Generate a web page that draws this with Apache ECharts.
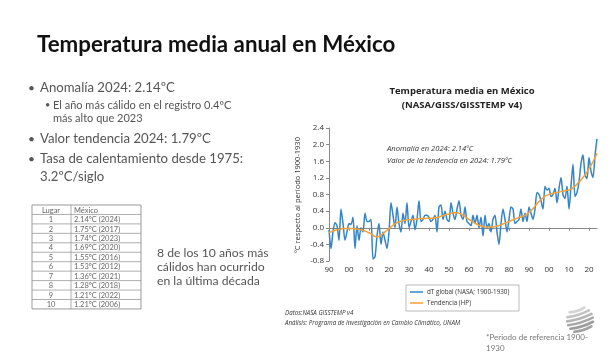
<!DOCTYPE html>
<html><head><meta charset="utf-8">
<script src="https://cdn.jsdelivr.net/npm/echarts@6/dist/echarts.min.js"></script>
<style>html,body{margin:0;padding:0;background:#fff}#c{width:614px;height:360px}</style>
</head><body><div id="c"></div>
<script>
const startYear = 1890;
const anomaly = [
 -0.05,-0.5,-0.1,0.12,0.05,-0.3,0.45,0.1,-0.3,-0.1,
 0.1,0.08,0.25,-0.5,0.05,-0.3,0.0,-0.1,0.35,0.15,
 0.15,0.2,-0.75,-0.7,-0.2,0.1,-0.4,-0.1,-0.3,-0.5,
 -0.1,0.6,0.3,0.0,0.5,0.1,-0.1,0.35,0.1,0.6,
 0.0,0.15,0.3,-0.05,0.2,0.65,0.15,0.2,0.3,0.3,
 0.25,0.15,0.2,0.3,-0.1,0.5,0.55,0.2,0.4,0.2,
 0.15,0.6,0.35,0.2,0.45,0.65,0.3,0.2,0.5,0.15,
 0.1,0.05,0.3,0.1,0.3,0.0,0.25,-0.2,0.3,0.0,
 0.1,-0.1,0.2,0.3,-0.1,-0.4,0.1,0.45,0.2,-0.1,
 0.2,0.5,0.45,0.1,0.15,0.2,0.45,0.15,0.35,0.15,
 0.5,0.35,0.2,0.45,0.85,0.8,0.65,0.45,1.0,0.9,
 0.95,0.75,0.8,0.95,0.6,0.95,1.21,0.8,0.7,1.0,
 0.45,1.0,1.53,0.75,0.85,1.1,1.55,1.75,1.28,1.18,
 1.69,1.36,1.21,1.74,2.14
];
const trend = [
 -0.12,-0.10,-0.08,-0.06,-0.05,-0.04,-0.03,-0.02,-0.02,-0.02,
 -0.02,-0.02,-0.02,-0.03,-0.03,-0.04,-0.05,-0.06,-0.08,-0.10,
 -0.12,-0.15,-0.18,-0.21,-0.22,-0.21,-0.18,-0.14,-0.10,-0.06,
 -0.02,0.02,0.06,0.09,0.12,0.14,0.16,0.17,0.18,0.19,
 0.19,0.20,0.20,0.21,0.21,0.22,0.22,0.22,0.22,0.23,
 0.23,0.23,0.23,0.24,0.25,0.26,0.28,0.29,0.31,0.32,
 0.33,0.35,0.36,0.36,0.36,0.35,0.33,0.30,0.27,0.23,
 0.20,0.17,0.14,0.11,0.08,0.06,0.04,0.03,0.02,0.02,
 0.02,0.02,0.02,0.03,0.04,0.05,0.07,0.09,0.11,0.13,
 0.15,0.17,0.19,0.21,0.23,0.25,0.26,0.28,0.30,0.33,
 0.37,0.41,0.46,0.52,0.58,0.63,0.68,0.72,0.76,0.78,
 0.80,0.82,0.83,0.84,0.85,0.86,0.87,0.88,0.89,0.90,
 0.91,0.93,0.96,1.00,1.05,1.10,1.15,1.21,1.27,1.34,
 1.42,1.50,1.59,1.69,1.79
];
const rankLabels = ['1','2','3','4','5','6','7','8','9','10'];
const rankValues = ['2.14ºC (2024)','1.75ºC (2017)','1.74ºC (2023)','1.69ºC (2020)','1.55ºC (2016)','1.53ºC (2012)','1.36ºC (2021)','1.28ºC (2018)','1.21ºC (2022)','1.21ºC (2006)'];

const blue = '#3584c6', orange = '#f6a135';
const slideFont = 'Lato, "Open Sans", sans-serif';
const chartFont = '"Open Sans", "Noto Sans", sans-serif';
const g = [];
function txt(x, y, t, size, opts) {
  opts = opts || {};
  g.push({type:'text', x:x, y:y, silent:true, style:{text:t, fill:opts.fill||'#555',
    font:(opts.style||'normal')+' '+(opts.weight||'normal')+' '+size+'px '+(opts.family||slideFont),
    textAlign:opts.align||'left', textVerticalAlign:'middle'}});
}
// slide title
txt(37, 45, 'Temperatura media anual en México', 22.3, {weight:'bold', fill:'#111'});
// bullets
txt(28, 88, '•', 12, {fill:'#555'});
txt(40, 88, 'Anomalía 2024: 2.14ºC', 13.2);
txt(45, 105, '•', 9, {fill:'#555'});
txt(53, 105, 'El año más cálido en el registro 0.4ºC', 11);
txt(53, 118, 'más alto que 2023', 11);
txt(28, 139, '•', 12);
txt(40, 139, 'Valor tendencia 2024: 1.79ºC', 13.2);
txt(28, 159, '•', 12);
txt(40, 159, 'Tasa de calentamiento desde 1975:', 13.2);
txt(40, 177, '3.2ºC/siglo', 13.2);
// table
const tx0 = 32, tx1 = 141, ty0 = 205, rowH = 9.45, colX = 71;
const nRows = rankLabels.length + 1;
g.push({type:'rect', silent:true, shape:{x:tx0, y:ty0, width:tx1-tx0, height:rowH*nRows}, style:{fill:'none', stroke:'#999', lineWidth:1}});
g.push({type:'line', silent:true, shape:{x1:colX, y1:ty0, x2:colX, y2:ty0+rowH*nRows}, style:{stroke:'#999', lineWidth:0.8}});
for (let i = 1; i < nRows; i++) {
  g.push({type:'line', silent:true, shape:{x1:tx0, y1:ty0+rowH*i, x2:tx1, y2:ty0+rowH*i}, style:{stroke:'#999', lineWidth:0.8}});
}
txt(51, ty0+rowH*0.5+0.5, 'Lugar', 7.5, {align:'center', fill:'#666'});
txt(74, ty0+rowH*0.5+0.5, 'México', 7.5, {fill:'#666'});
rankLabels.forEach((r, i) => {
  txt(51, ty0+rowH*(i+1.5)+0.5, r, 7.5, {align:'center', fill:'#666'});
  txt(74, ty0+rowH*(i+1.5)+0.5, rankValues[i], 7.5, {fill:'#666'});
});
txt(157, 253, '8 de los 10 años más', 12.2);
txt(157, 267, 'cálidos han ocurrido', 12.2);
txt(157, 281, 'en la última década', 12.2);
// chart title
txt(462, 91, 'Temperatura media en México', 9.5, {weight:'bold', align:'center', fill:'#222', family:chartFont});
txt(462, 105, '(NASA/GISS/GISSTEMP v4)', 9.5, {weight:'bold', align:'center', fill:'#222', family:chartFont});
// annotations
txt(387, 149, 'Anomalía en 2024: 2.14ºC', 7.6, {style:'italic', fill:'#333', family:chartFont});
txt(387, 161, 'Valor de la tendencia en 2024: 1.79ºC', 7.6, {style:'italic', fill:'#333', family:chartFont});
// y axis title
g.push({type:'text', x:298, y:195, rotation:Math.PI/2, silent:true, style:{text:'ºC respecto al período 1900-1930', fill:'#333', font:'normal 7.5px '+chartFont, textAlign:'center', textVerticalAlign:'middle'}});
// legend box
g.push({type:'rect', silent:true, shape:{x:406, y:285, width:113, height:26}, style:{fill:'#fff', stroke:'#aaa', lineWidth:0.8}});
g.push({type:'line', silent:true, shape:{x1:410, y1:292, x2:423, y2:292}, style:{stroke:blue, lineWidth:1.5}});
g.push({type:'line', silent:true, shape:{x1:410, y1:303, x2:423, y2:303}, style:{stroke:orange, lineWidth:1.5}});
txt(427, 292, 'dT global (NASA; 1900-1930)', 6.3, {fill:'#333', family:chartFont});
txt(427, 303, 'Tendencia (HP)', 6.3, {fill:'#333', family:chartFont});
// sources
txt(285, 313, 'Datos:NASA GISSTEMP v4', 6.2, {style:'italic', fill:'#333', family:chartFont});
txt(285, 323, 'Análisis: Programa de Investigación en Cambio Climático, UNAM', 6.2, {style:'italic', fill:'#333', family:chartFont});
// logo: striped sphere
(function(){
  const cx = 580, cy = 320, r = 13, ang = -0.3;
  const stripes = [-10.5, -6.5, -2.5, 1.5, 5.5, 9.5];
  const ca = Math.cos(ang), sa = Math.sin(ang);
  stripes.forEach((d, i) => {
    const hl = Math.sqrt(Math.max(r*r - d*d, 0));
    const bow = 2.2;
    const p1 = [cx + (-hl)*ca - d*sa, cy + (-hl)*sa + d*ca];
    const p2 = [cx + hl*ca - d*sa, cy + hl*sa + d*ca];
    const cp = [cx - (d+bow)*sa, cy + (d+bow)*ca];
    const shade = ['#d4d4d4','#c4c4c4','#b5b5b5','#a8a8a8','#9c9c9c','#a0a0a0'][i];
    g.push({type:'bezierCurve', silent:true, shape:{x1:p1[0], y1:p1[1], x2:p2[0], y2:p2[1], cpx1:cp[0], cpy1:cp[1]}, style:{stroke:shade, fill:null, lineWidth:2.6, lineCap:'round'}});
  });
})();
// footnote
txt(486, 337, '*Periodo de referencia 1900-', 8, {fill:'#777'});
txt(486, 348, '1930', 8, {fill:'#777'});

const chart = echarts.init(document.getElementById('c'), null, {renderer:'canvas'});
chart.setOption({
  backgroundColor:'#fff',
  animation:false,
  grid:{left:329, right:17, top:128, bottom:99},
  xAxis:{type:'value', min:1890, max:2024, interval:10,
    axisLine:{lineStyle:{color:'#888', width:1}},
    axisTick:{length:3, lineStyle:{color:'#888'}},
    splitLine:{show:false},
    axisLabel:{color:'#333', fontSize:8, fontFamily:chartFont, margin:5, showMaxLabel:false,
      formatter:v => (v % 10 === 0 ? String(v).slice(2) : '')}},
  yAxis:{type:'value', min:-0.8, max:2.4, interval:0.4,
    axisLine:{show:true, lineStyle:{color:'#888', width:1}},
    axisTick:{show:true, length:3, lineStyle:{color:'#888'}},
    splitLine:{show:false},
    axisLabel:{color:'#333', fontSize:8, fontFamily:chartFont, margin:5, formatter:v => v.toFixed(1)}},
  series:[
    {type:'line', data:anomaly.map((v,i)=>[startYear+i, v]), showSymbol:false, smooth:0.25,
      lineStyle:{color:blue, width:1.5}, z:2},
    {type:'line', data:trend.map((v,i)=>[startYear+i, v]), showSymbol:false, smooth:true,
      lineStyle:{color:orange, width:1.5}, z:3}
  ],
  graphic:g
});
</script></body></html>
